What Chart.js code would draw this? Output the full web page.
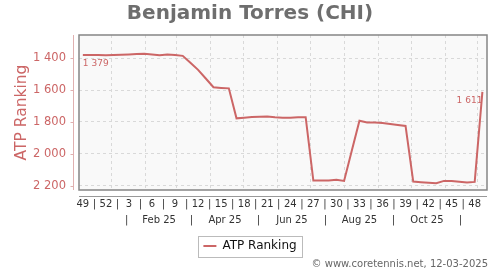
<!DOCTYPE html>
<html lang="en">
<head>
<meta charset="UTF-8">
<title>Benjamin Torres (CHI)</title>
<script src="https://cdn.jsdelivr.net/npm/chart.js"></script>
<style>
    html, body { margin: 0; padding: 0; background: #fff; }
</style>
</head>
<body>
<canvas id="rankChart" width="500" height="270"></canvas>
<script>
// week numbers, Dec 2024 -> Dec 2025
const weekLabels = ['49', '50', '51', '52', '1', '2', '3', '4', '5', '6', '7', '8', '9', '10',
    '11', '12', '13', '14', '15', '16', '17', '18', '19', '20', '21', '22', '23', '24', '25',
    '26', '27', '28', '29', '30', '31', '32', '33', '34', '35', '36', '37', '38', '39', '40',
    '41', '42', '43', '44', '45', '46', '47', '48', '49'];

const ranking = [1379, 1380, 1380, 1381, 1379, 1378, 1376, 1374, 1372, 1376, 1381, 1377, 1380,
    1385, 1428, 1473, 1527, 1582, 1586, 1589, 1777, 1773, 1769, 1767, 1766, 1771, 1773, 1773,
    1771, 1770, 2168, 2168, 2167, 2162, 2170, 1980, 1792, 1803, 1804, 1807, 1812, 1819, 1825,
    2174, 2178, 2182, 2185, 2170, 2170, 2175, 2180, 2176, 1611];

const yTicks = [1400, 1600, 1800, 2000, 2200];

// month row under the week numbers
const monthStarts = ['2025-01-01', '2025-02-01', '2025-03-01', '2025-04-01', '2025-05-01', '2025-06-01',
    '2025-07-01', '2025-08-01', '2025-09-01', '2025-10-01', '2025-11-01', '2025-12-01'];
const monthSeps = ['2025-01-15', '2025-03-15', '2025-05-15', '2025-07-15', '2025-09-15', '2025-11-15'];
const monthLabels = ['Feb 25', 'Apr 25', 'Jun 25', 'Aug 25', 'Oct 25'];

const firstWeekDate = Date.UTC(2024, 11, 6);
const toWeek = d => (Date.parse(d) - firstWeekDate) / (7 * 864e5);

const monthTicks = [];
monthStarts.forEach(d => monthTicks.push({ v: toWeek(d), label: '', grid: true }));
monthSeps.forEach(d => monthTicks.push({ v: toWeek(d), label: '|', grid: false }));
monthLabels.forEach((l, i) => monthTicks.push({ v: (toWeek(monthSeps[i]) + toWeek(monthSeps[i + 1])) / 2, label: l, grid: false }));
monthTicks.sort((a, b) => a.v - b.v);

const X_MIN = -0.5, X_MAX = 52.6;
const RED = '#cc6666';
const fmt = v => String(v).replace(/\B(?=(\d{3})+(?!\d))/g, ' ');

Chart.defaults.font.family = 'DejaVu Sans';

const decor = {
    id: 'decor',
    beforeDraw(chart) {
        const { ctx, chartArea: a } = chart;
        ctx.save();
        ctx.fillStyle = '#f9f9f9';
        ctx.fillRect(a.left, a.top, a.width, a.height);
        ctx.restore();
    },
    beforeDatasetsDraw(chart) {
        const { ctx, chartArea: a, scales } = chart;
        ctx.save();
        ctx.strokeStyle = '#858585';
        ctx.lineWidth = 1.5;
        ctx.strokeRect(a.left, a.top, a.width, a.height);

        // offset y axis with small ticks
        ctx.strokeStyle = '#e0b0b0';
        ctx.lineWidth = 1;
        ctx.beginPath();
        ctx.moveTo(a.left - 5.5, a.top);
        ctx.lineTo(a.left - 5.5, a.bottom);
        yTicks.forEach(v => {
            const y = Math.round(scales.y.getPixelForValue(v)) + 0.5;
            ctx.moveTo(a.left - 8.5, y);
            ctx.lineTo(a.left - 5.5, y);
        });
        ctx.stroke();

        // offset x axis
        ctx.strokeStyle = '#999';
        ctx.beginPath();
        ctx.moveTo(a.left, a.bottom + 6.5);
        ctx.lineTo(a.right, a.bottom + 6.5);
        ctx.stroke();
        ctx.restore();
    },
    afterDraw(chart) {
        const { ctx } = chart;
        const pts = chart.getDatasetMeta(0).data;
        const last = pts.length - 1;
        ctx.save();
        ctx.fillStyle = RED;
        ctx.font = '9px "DejaVu Sans"';
        ctx.textBaseline = 'middle';
        ctx.textAlign = 'left';
        ctx.fillText(fmt(ranking[0]), pts[0].x, pts[0].y + 9);
        ctx.textAlign = 'right';
        ctx.fillText(fmt(ranking[last]), pts[last].x, pts[last].y + 9);

        // legend frame
        const hb = chart.legend.legendHitBoxes[0];
        if (hb) {
            const cy = hb.top + hb.height / 2;
            ctx.strokeStyle = '#bbb';
            ctx.lineWidth = 1;
            ctx.strokeRect(Math.round(hb.left - 5) + 0.5, Math.round(cy - 10.5) + 0.5, Math.round(hb.width + 11), 21);
        }

        // footer
        ctx.fillStyle = '#666';
        ctx.font = '10px "DejaVu Sans"';
        ctx.textAlign = 'right';
        ctx.fillText('\u00a9 www.coretennis.net, 12-03-2025', 488, 264);
        ctx.restore();
    }
};

new Chart(document.getElementById('rankChart'), {
    type: 'line',
    data: {
        datasets: [{
            label: 'ATP Ranking',
            data: ranking.map((v, i) => ({ x: i, y: v })),
            borderColor: RED,
            backgroundColor: RED,
            borderWidth: 2,
            pointRadius: 0,
            pointStyle: 'line',
            tension: 0,
            xAxisID: 'x',
            yAxisID: 'y'
        }]
    },
    options: {
        responsive: false,
        animation: false,
        layout: { padding: { left: 13, right: 13, top: 0, bottom: 8 } },
        plugins: {
            title: {
                display: true,
                text: 'Benjamin Torres (CHI)',
                color: '#6e6e6e',
                font: { size: 20, weight: 'bold' },
                padding: { top: 2, bottom: 9 }
            },
            legend: {
                position: 'bottom',
                labels: {
                    usePointStyle: true,
                    pointStyleWidth: 13,
                    color: '#111',
                    font: { size: 12 },
                    padding: 10
                }
            },
            tooltip: { enabled: false }
        },
        scales: {
            x: {
                type: 'linear',
                position: 'bottom',
                weight: 0,
                min: X_MIN,
                max: X_MAX,
                afterBuildTicks: s => {
                    const t = [];
                    for (let v = 0; v <= 51; v += 1.5) t.push({ value: v });
                    s.ticks = t;
                },
                ticks: {
                    autoSkip: false,
                    maxRotation: 0,
                    padding: 8,
                    color: '#333',
                    font: { size: 10 },
                    callback: v => (v % 3 === 0 ? weekLabels[v] : '|')
                },
                grid: { display: false, drawTicks: false },
                border: { display: false },
                afterFit: s => { s.height = 21; }
            },
            xm: {
                type: 'linear',
                position: 'bottom',
                weight: 1,
                min: X_MIN,
                max: X_MAX,
                afterBuildTicks: s => { s.ticks = monthTicks.map(t => ({ value: t.v })); },
                ticks: {
                    autoSkip: false,
                    maxRotation: 0,
                    padding: 3,
                    color: '#333',
                    font: { size: 10 },
                    callback: (v, i) => monthTicks[i].label
                },
                grid: {
                    drawTicks: false,
                    color: c => (monthTicks[c.index] && monthTicks[c.index].grid ? '#d9d9d9' : 'rgba(0,0,0,0)')
                },
                border: { display: false, dash: [3, 3] },
                afterFit: s => { s.height = 19; }
            },
            y: {
                type: 'linear',
                reverse: true,
                min: 1254,
                max: 2227,
                afterBuildTicks: s => { s.ticks = yTicks.map(v => ({ value: v })); },
                ticks: {
                    color: RED,
                    font: { size: 11.5 },
                    padding: 13,
                    callback: v => fmt(v)
                },
                grid: { color: '#d9d9d9', drawTicks: false },
                border: { display: false, dash: [3, 3] },
                title: {
                    display: true,
                    text: 'ATP Ranking',
                    color: RED,
                    font: { size: 15.5 },
                    padding: 0
                },
                afterFit: s => { s.width = 66; }
            }
        }
    },
    plugins: [decor]
});
</script>
</body>
</html>
